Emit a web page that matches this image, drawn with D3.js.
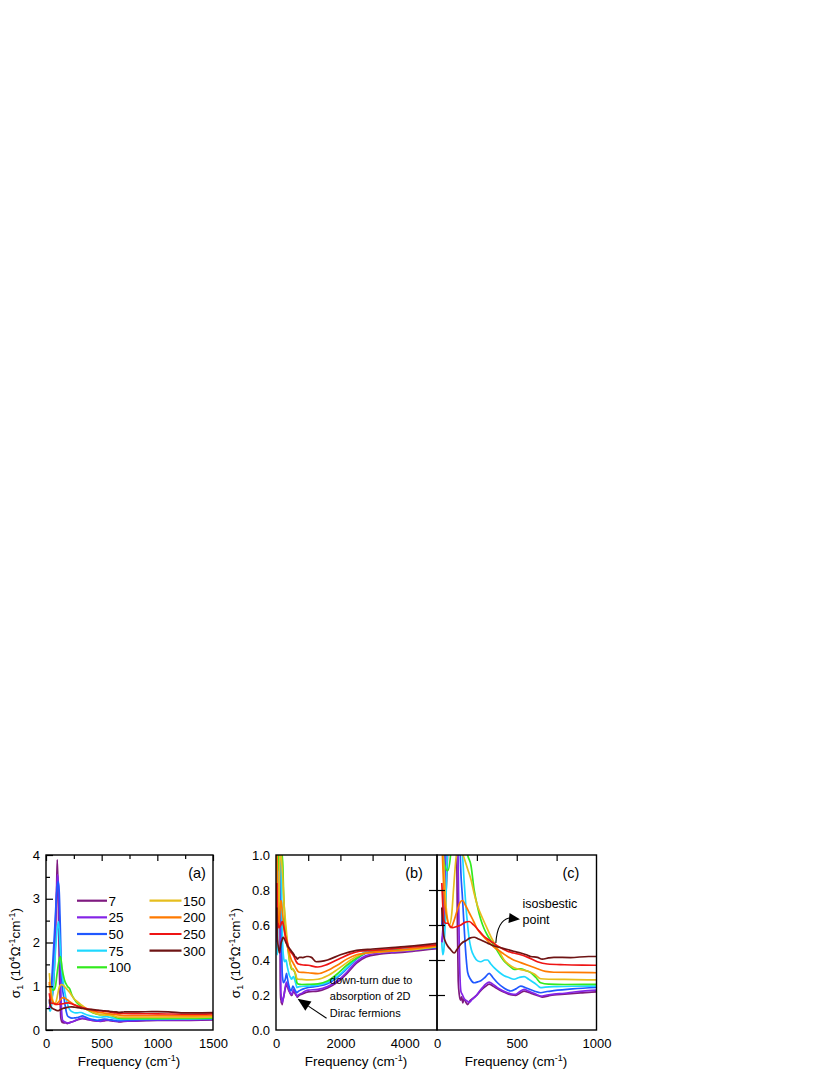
<!DOCTYPE html>
<html><head><meta charset="utf-8">
<script src="https://cdn.jsdelivr.net/npm/d3@7"></script>
<style>
html,body{margin:0;padding:0;background:#fff;}
svg{display:block;font-family:"Liberation Sans",Arial,Helvetica,sans-serif;}
</style></head>
<body>
<svg id="chart" width="830" height="1075"></svg>
<script>
// ---------------- DATA ----------------
const temps = [7, 25, 50, 75, 100, 150, 200, 250, 300];
const colors = ["#7f1a80", "#8424e6", "#2058ff", "#1ed8ff", "#33ea1e", "#e6be1e", "#ff7a00", "#ee1414", "#6e1414"];

// [frequency (cm^-1), sigma_1 (10^4 Ohm^-1 cm^-1)]
const s7 = [[30,0.50],[50,0.68],[70,1.15],[85,2.1],[95,3.2],[101,3.89],[108,3.3],[115,2.2],[122,1.2],[128,0.6],[133,0.28],[140,0.2],[148,0.17],[155,0.19],[162,0.155],[170,0.18],[180,0.16],[192,0.145],[205,0.165],[225,0.18],[244,0.195],[265,0.215],[285,0.235],[305,0.25],[327,0.262],[350,0.252],[379,0.235],[410,0.22],[442,0.208],[470,0.2],[494,0.198],[520,0.21],[546,0.222],[575,0.214],[608,0.203],[640,0.195],[660,0.188],[700,0.195],[733,0.2],[800,0.205],[900,0.212],[1000,0.218],[1300,0.222],[1600,0.24],[1900,0.272],[2200,0.322],[2500,0.382],[2800,0.418],[3200,0.433],[3600,0.44],[4000,0.445],[4500,0.455],[5000,0.465]];
const s25 = [[30,0.5],[50,0.8],[70,1.5],[90,2.8],[103,3.55],[112,3.3],[122,2.2],[132,1.0],[140,0.45],[150,0.22],[160,0.2],[171,0.178],[185,0.168],[202,0.158],[220,0.175],[244,0.194],[265,0.22],[285,0.242],[305,0.262],[327,0.274],[350,0.262],[379,0.242],[410,0.225],[442,0.213],[470,0.205],[494,0.204],[520,0.22],[546,0.232],[575,0.222],[608,0.21],[630,0.2],[650,0.194],[690,0.2],[733,0.205],[800,0.21],[858,0.217],[930,0.224],[1000,0.228],[1300,0.232],[1600,0.248],[1900,0.28],[2200,0.33],[2500,0.39],[2800,0.425],[3200,0.44],[3600,0.445],[4000,0.45],[4500,0.46],[5000,0.47]];
const s50 = [[30,0.6],[45,0.9],[60,1.5],[80,2.4],[95,3.1],[108,3.4],[118,3.2],[128,2.4],[138,1.4],[146,1.0],[160,0.75],[171,0.575],[182,0.42],[192,0.33],[210,0.29],[233,0.27],[255,0.275],[275,0.282],[300,0.3],[327,0.324],[350,0.3],[379,0.27],[420,0.24],[462,0.223],[495,0.235],[525,0.251],[560,0.24],[608,0.223],[650,0.213],[690,0.22],[733,0.225],[850,0.235],[1000,0.243],[1300,0.25],[1600,0.265],[1900,0.3],[2200,0.35],[2500,0.405],[2800,0.44],[3200,0.455],[3600,0.458],[4000,0.46],[4500,0.465],[5000,0.472]];
const s75 = [[30,0.5],[36,0.43],[42,0.45],[55,0.7],[70,1.2],[85,1.8],[100,2.3],[112,2.48],[125,2.0],[140,1.4],[160,1.0],[170,0.85],[181,0.71],[192,0.6],[202,0.52],[215,0.46],[233,0.42],[255,0.395],[275,0.39],[300,0.4],[317,0.4],[335,0.38],[358,0.356],[390,0.33],[421,0.31],[450,0.3],[483,0.29],[515,0.3],[546,0.305],[575,0.29],[608,0.27],[630,0.255],[650,0.242],[680,0.245],[750,0.248],[850,0.25],[1000,0.251],[1300,0.256],[1600,0.272],[1900,0.305],[2200,0.355],[2500,0.41],[2800,0.45],[3200,0.46],[3600,0.465],[4000,0.463],[4500,0.468],[5000,0.476]];
const s100 = [[30,1.05],[45,0.95],[67,0.91],[85,1.0],[100,1.3],[118,1.6],[130,1.68],[145,1.4],[165,1.15],[192,1.0],[213,0.94],[233,0.8],[255,0.7],[275,0.63],[295,0.58],[317,0.54],[338,0.51],[358,0.48],[380,0.45],[400,0.42],[420,0.395],[442,0.375],[462,0.36],[483,0.347],[505,0.348],[525,0.35],[555,0.34],[587,0.328],[620,0.3],[650,0.27],[700,0.262],[800,0.26],[1000,0.261],[1300,0.264],[1600,0.28],[1900,0.32],[2200,0.37],[2500,0.41],[2800,0.44],[3200,0.45],[3600,0.455],[4000,0.458],[4500,0.465],[5000,0.477]];
const s150 = [[30,1.3],[40,1.0],[50,0.8],[62,0.66],[78,0.6],[92,0.66],[105,0.82],[118,0.97],[130,1.03],[142,1.04],[155,1.02],[171,0.98],[192,0.92],[213,0.86],[233,0.78],[254,0.71],[285,0.64],[317,0.575],[345,0.52],[369,0.48],[395,0.44],[421,0.4],[450,0.375],[483,0.356],[525,0.345],[567,0.337],[610,0.32],[650,0.293],[700,0.29],[800,0.289],[1000,0.287],[1300,0.29],[1600,0.31],[1900,0.345],[2200,0.385],[2500,0.42],[2800,0.44],[3200,0.445],[3600,0.45],[4000,0.455],[4500,0.465],[5000,0.476]];
const s200 = [[30,1.1],[38,0.9],[46,0.75],[60,0.65],[75,0.6],[88,0.585],[105,0.62],[129,0.69],[145,0.73],[160,0.74],[180,0.71],[202,0.67],[230,0.62],[254,0.575],[285,0.54],[317,0.51],[350,0.48],[379,0.46],[410,0.44],[442,0.42],[480,0.4],[525,0.385],[570,0.37],[629,0.35],[680,0.335],[733,0.33],[850,0.329],[1000,0.327],[1300,0.322],[1600,0.34],[1900,0.37],[2200,0.405],[2500,0.43],[2800,0.44],[3200,0.448],[3600,0.452],[4000,0.46],[4500,0.47],[5000,0.48]];
const s250 = [[30,0.84],[36,0.72],[42,0.63],[55,0.61],[67,0.61],[85,0.59],[98,0.585],[120,0.59],[150,0.6],[175,0.615],[202,0.62],[230,0.6],[265,0.565],[290,0.54],[317,0.52],[350,0.5],[379,0.48],[410,0.465],[442,0.45],[480,0.44],[525,0.43],[570,0.415],[629,0.39],[692,0.377],[800,0.373],[1000,0.37],[1300,0.36],[1600,0.375],[2000,0.41],[2300,0.435],[2600,0.45],[3000,0.455],[3500,0.462],[4000,0.47],[4500,0.478],[5000,0.487]];
const s300 = [[30,0.7],[36,0.6],[42,0.54],[55,0.5],[67,0.48],[85,0.46],[108,0.44],[125,0.46],[140,0.48],[160,0.5],[181,0.51],[205,0.525],[233,0.53],[260,0.52],[285,0.51],[320,0.495],[358,0.48],[400,0.47],[442,0.46],[480,0.45],[525,0.44],[560,0.43],[587,0.42],[630,0.415],[660,0.405],[700,0.412],[733,0.415],[837,0.414],[950,0.42],[1000,0.42],[1100,0.415],[1250,0.39],[1400,0.392],[1600,0.4],[2000,0.43],[2500,0.455],[3000,0.463],[3500,0.47],[4000,0.476],[4500,0.485],[5000,0.495]];
const seriesData = [s7, s25, s50, s75, s100, s150, s200, s250, s300];

// axis ticks
const aXTicks = [0, 500, 1000, 1500], aXMinor = [250, 750, 1250];
const aYTicks = [0, 1, 2, 3, 4], aYMinor = [0.5, 1.5, 2.5, 3.5];
const bXTicks = [0, 2000, 4000], bXTop = [1000, 2000, 3000, 4000];
const bYTicks = [0.0, 0.2, 0.4, 0.6, 0.8, 1.0], bcInnerTicks = [0.2, 0.4, 0.6, 0.8];
const cXTicks = [0, 500, 1000], cXTop = [250, 500, 750];

// annotations (data coordinates)
const annB = {text: ["down-turn due to", "absorption of 2D", "Dirac fermions"], tip: [670, 0.178], tail: [1570, 0.067], textAt: [1670, 0.265]};
const annC = {text: ["isosbestic", "point"], start: [369, 0.497], ctrl: [378, 0.625], tip: [520, 0.633], textAt: [536, 0.70]};

// ---------------- DRAW ----------------
const svg = d3.select("#chart");
svg.append("rect").attr("width", 830).attr("height", 1075).attr("fill", "#fff");
const yTop = 855, yBot = 1030;
const tickFont = 13;
const defs = svg.append("defs");

function makePanel(id, xr, xd, yd) {
  const x = d3.scaleLinear().domain(xd).range(xr);
  const y = d3.scaleLinear().domain(yd).range([yBot, yTop]);
  defs.append("clipPath").attr("id", "clip-" + id).append("rect")
    .attr("x", xr[0]).attr("y", yTop).attr("width", xr[1] - xr[0]).attr("height", yBot - yTop);
  const g = svg.append("g");
  const lines = g.append("g").attr("clip-path", `url(#clip-${id})`);
  const line = d3.line().x(d => x(d[0])).y(d => y(d[1])).curve(d3.curveMonotoneX);
  seriesData.forEach((s, i) => {
    lines.append("path").attr("d", line(s)).attr("fill", "none")
      .attr("stroke", colors[i]).attr("stroke-width", 1.7).attr("stroke-linejoin", "round");
  });
  return {x, y, g};
}

function styleAxis(sel) {
  sel.select(".domain").remove();
  sel.selectAll("line").attr("stroke", "#000").attr("stroke-width", 1.2);
  sel.selectAll("text").attr("font-size", tickFont).attr("fill", "#000")
    .attr("font-family", '"Liberation Sans",Arial,sans-serif');
}

function frame(g, x) {
  g.append("rect").attr("x", x.range()[0]).attr("y", yTop)
    .attr("width", x.range()[1] - x.range()[0]).attr("height", yBot - yTop)
    .attr("fill", "none").attr("stroke", "#000").attr("stroke-width", 1.4);
}

function xTitle(cx) {
  const t = svg.append("text").attr("x", cx).attr("y", 1066).attr("text-anchor", "middle")
    .attr("font-size", 13.5).attr("fill", "#000");
  t.append("tspan").text("Frequency (cm");
  t.append("tspan").attr("dy", -5).attr("font-size", 9).text("-1");
  t.append("tspan").attr("dy", 5).text(")");
}

function yTitle(cx, cy) {
  const t = svg.append("text").attr("transform", `translate(${cx},${cy}) rotate(-90)`)
    .attr("text-anchor", "middle").attr("font-size", 13.5).attr("fill", "#000");
  t.append("tspan").text("σ");
  t.append("tspan").attr("dy", 3).attr("font-size", 9).text("1");
  t.append("tspan").attr("dy", -3).text(" (10");
  t.append("tspan").attr("dy", -5).attr("font-size", 9).text("4");
  t.append("tspan").attr("dy", 5).text("Ω");
  t.append("tspan").attr("dy", -5).attr("font-size", 9).text("-1");
  t.append("tspan").attr("dy", 5).text("cm");
  t.append("tspan").attr("dy", -5).attr("font-size", 9).text("-1");
  t.append("tspan").attr("dy", 5).text(")");
}

// Panel (a)
const A = makePanel("a", [46, 213], [0, 1500], [0, 4]);
frame(A.g, A.x);
A.g.append("g").attr("transform", `translate(0,${yTop})`)
  .call(d3.axisTop(A.x).tickValues(aXTicks).tickSize(-6).tickFormat("")).call(styleAxis);
A.g.append("g").attr("transform", `translate(0,${yTop})`)
  .call(d3.axisTop(A.x).tickValues(aXMinor).tickSize(-4).tickFormat("")).call(styleAxis);
A.g.append("g").attr("transform", `translate(0,${yBot})`)
  .call(d3.axisBottom(A.x).tickValues(aXTicks).tickSize(0).tickPadding(9).tickFormat(d3.format("d"))).call(styleAxis);
A.g.append("g").attr("transform", `translate(46,0)`)
  .call(d3.axisLeft(A.y).tickValues(aYTicks).tickSize(-7).tickPadding(6).tickFormat(d3.format("d"))).call(styleAxis);
A.g.append("g").attr("transform", `translate(46,0)`)
  .call(d3.axisLeft(A.y).tickValues(aYMinor).tickSize(-4).tickFormat("")).call(styleAxis);
A.g.append("text").attr("x", 197).attr("y", 878).attr("text-anchor", "middle").attr("font-size", 14.5).text("(a)");
xTitle(129);
yTitle(20, 953);

// legend in (a)
const legRows = 5;
temps.forEach((t, i) => {
  const col = Math.floor(i / legRows), row = i % legRows;
  const lx = col === 0 ? 77 : 149.5, lw = col === 0 ? 30 : 32;
  const ly = 900.7 + row * 16.65;
  A.g.append("line").attr("x1", lx).attr("x2", lx + lw).attr("y1", ly).attr("y2", ly)
    .attr("stroke", colors[i]).attr("stroke-width", 2.2);
  A.g.append("text").attr("x", lx + lw + 1.5).attr("y", ly + 5).attr("font-size", 13.5).text(t);
});

// Panel (b)
const B = makePanel("b", [276, 437], [0, 5000], [0, 1]);
frame(B.g, B.x);
B.g.append("g").attr("transform", `translate(0,${yTop})`)
  .call(d3.axisTop(B.x).tickValues(bXTop).tickSize(-6).tickFormat("")).call(styleAxis);
B.g.append("g").attr("transform", `translate(0,${yBot})`)
  .call(d3.axisBottom(B.x).tickValues(bXTicks).tickSize(0).tickPadding(9).tickFormat(d3.format("d"))).call(styleAxis);
B.g.append("g").attr("transform", `translate(276,0)`)
  .call(d3.axisLeft(B.y).tickValues(bYTicks).tickSize(0).tickPadding(6).tickFormat(d3.format(".1f"))).call(styleAxis);
B.g.append("text").attr("x", 414).attr("y", 878).attr("text-anchor", "middle").attr("font-size", 14.5).text("(b)");
xTitle(356);
yTitle(240, 953);

// annotation (b)
const bt = B.g.append("text").attr("font-size", 11).attr("fill", "#000");
annB.text.forEach((s, i) => {
  bt.append("tspan").attr("x", B.x(annB.textAt[0])).attr("y", B.y(annB.textAt[1]) + i * 16.5).text(s);
});
{
  const tx = B.x(annB.tip[0]), ty = B.y(annB.tip[1]);
  const sx = B.x(annB.tail[0]), sy = B.y(annB.tail[1]);
  const ang = Math.atan2(ty - sy, tx - sx);
  const L = 13, W = 5.5;
  const bx = tx - L * Math.cos(ang), by = ty - L * Math.sin(ang);
  B.g.append("line").attr("x1", sx).attr("y1", sy).attr("x2", bx).attr("y2", by).attr("stroke", "#000").attr("stroke-width", 1.1);
  B.g.append("path").attr("d", `M${tx},${ty}L${bx + W * Math.sin(ang)},${by - W * Math.cos(ang)}L${bx - W * Math.sin(ang)},${by + W * Math.cos(ang)}Z`).attr("fill", "#000");
}

// Panel (c)
const C = makePanel("c", [437, 596.5], [0, 1000], [0, 1]);
frame(C.g, C.x);
C.g.append("g").attr("transform", `translate(0,${yTop})`)
  .call(d3.axisTop(C.x).tickValues(cXTop).tickSize(-6).tickFormat("")).call(styleAxis);
C.g.append("g").attr("transform", `translate(0,${yBot})`)
  .call(d3.axisBottom(C.x).tickValues(cXTicks).tickSize(0).tickPadding(9).tickFormat(d3.format("d"))).call(styleAxis);
C.g.append("g").attr("transform", `translate(445,0)`)
  .call(d3.axisLeft(C.y).tickValues(bcInnerTicks).tickSize(16).tickFormat("")).call(styleAxis);
C.g.append("text").attr("x", 571).attr("y", 878).attr("text-anchor", "middle").attr("font-size", 14.5).text("(c)");
xTitle(516);

// annotation (c)
const ct = C.g.append("text").attr("font-size", 12.5).attr("fill", "#000");
annC.text.forEach((s, i) => {
  ct.append("tspan").attr("x", C.x(annC.textAt[0])).attr("y", C.y(annC.textAt[1]) + i * 16.5).text(s);
});
{
  const sx = C.x(annC.start[0]), sy = C.y(annC.start[1]);
  const cx = C.x(annC.ctrl[0]), cy = C.y(annC.ctrl[1]);
  const tx = C.x(annC.tip[0]), ty = C.y(annC.tip[1]);
  const ang = Math.atan2(ty - cy + 4, tx - cx);
  const L = 11, W = 5;
  const bx = tx - L * Math.cos(ang), by = ty - L * Math.sin(ang);
  C.g.append("path").attr("d", `M${sx},${sy}Q${cx},${cy} ${bx},${by}`).attr("fill", "none").attr("stroke", "#000").attr("stroke-width", 1.1);
  C.g.append("path").attr("d", `M${tx},${ty}L${bx + W * Math.sin(ang)},${by - W * Math.cos(ang)}L${bx - W * Math.sin(ang)},${by + W * Math.cos(ang)}Z`).attr("fill", "#000");
}
</script>
</body></html>
